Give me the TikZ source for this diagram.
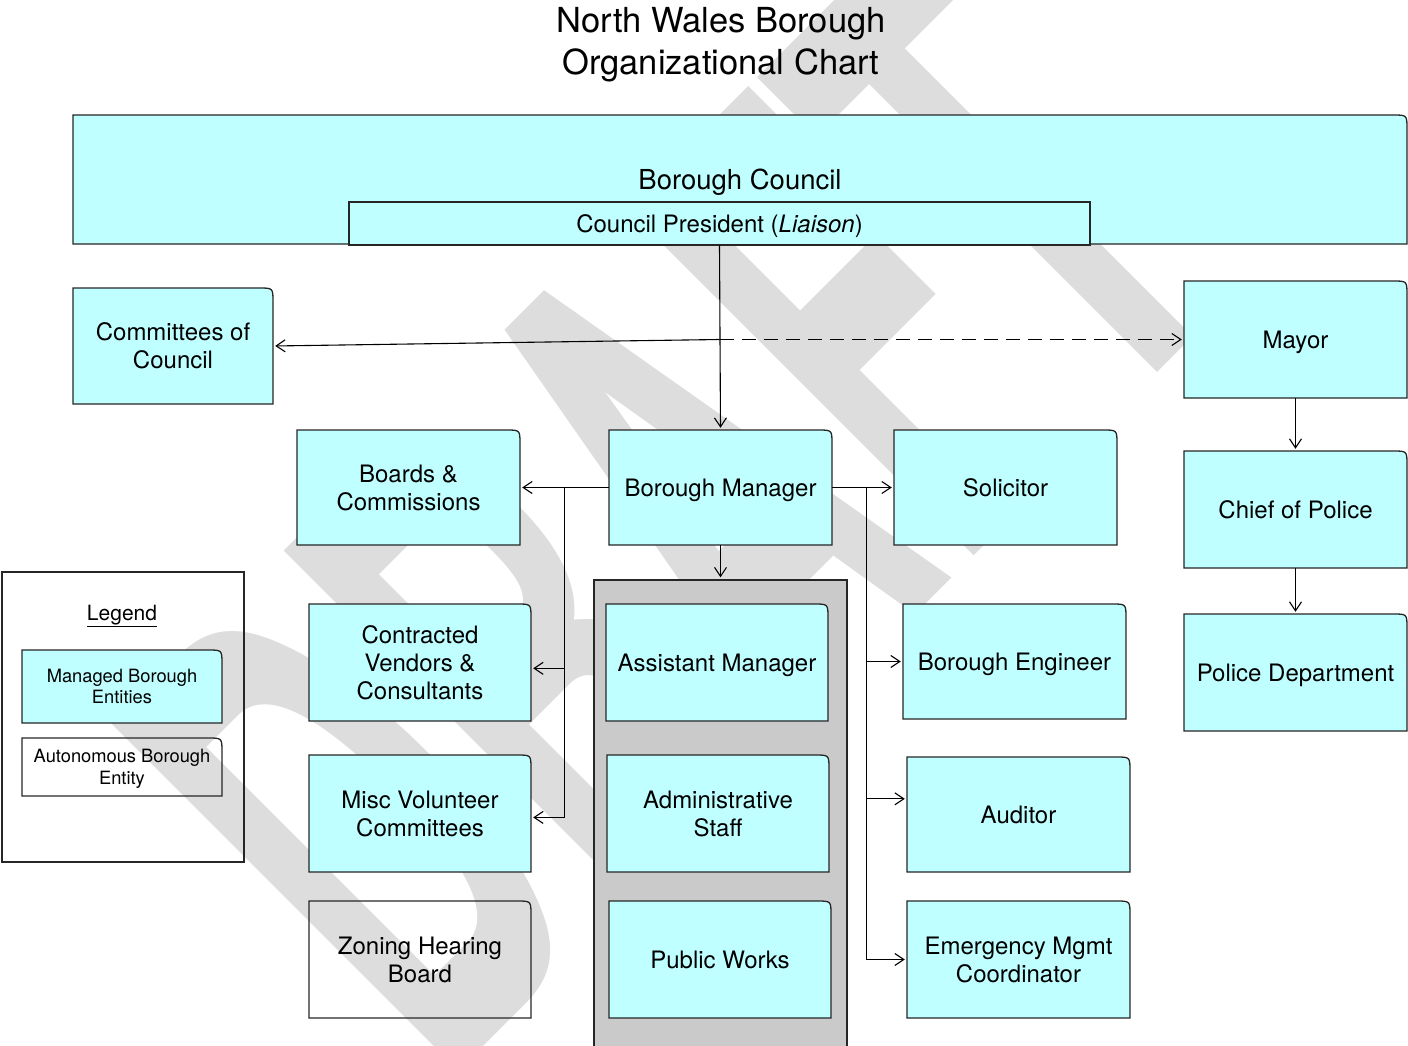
\documentclass[tikz,border=0pt]{standalone}
\usepackage{fontspec}
\setmainfont{TeX Gyre Heros}
\usetikzlibrary{arrows.meta,calc,positioning}

\definecolor{entitycyan}{RGB}{191,255,255}
\definecolor{staffgray}{RGB}{202,202,202}
\definecolor{draftgray}{RGB}{221,221,221}

\newcommand{\cornerR}{14}
% box with one round corner (top right): [node opts]{name}{fill}{x1}{y1}{x2}{y2}{text}
\newcommand{\orgbox}[8][]{%
  \filldraw[boxline,fill=#3] (#4,#7) -- (#4,#5) -- ({#6-\cornerR},#5)
    .. controls (#6,#5) .. (#6,{#5+\cornerR}) -- (#6,#7) -- cycle;
  \pgfmathsetmacro\boxw{#6-#4}\pgfmathsetmacro\boxh{#7-#5}
  \node[boxtext,minimum width=\boxw pt,minimum height=\boxh pt,#1] (#2)
    at ({(#4+#6)/2},{(#5+#7)/2}) {#8};
}

\begin{document}
\begin{tikzpicture}[x=1pt,y=-1pt,
  boxline/.style={draw=black!85,line width=1.3pt},
  boxtext/.style={inner sep=0pt,align=center,text depth=0pt,font=\fontsize{24}{28}\selectfont},
  keytext/.style={font=\fontsize{18.3}{21.5}\selectfont},
  link/.style={line width=1.1pt,shorten >=2pt,-{Straight Barb[length=9pt,width=12pt]}}]
\useasboundingbox (0,0) rectangle (1408,1046);

% watermark
\node[rotate=45,xscale=0.5,anchor=base west,inner sep=0pt,text=draftgray,
  font=\bfseries\fontsize{674}{674}\selectfont] (draft) at (440,1090) {DRAFT};

\node[align=center,font=\fontsize{34.5}{42}\selectfont] (title) at (721,44.5)
  {North Wales Borough\\Organizational Chart};

% council
\orgbox{council}{entitycyan}{73}{115}{1407}{244}{}
\node[font=\fontsize{27.5}{30}\selectfont] (councilname) at (740,182) {Borough Council};
\node[boxline,fill=entitycyan,minimum width=741pt,minimum height=43pt,inner sep=0pt,text depth=0pt,
  font=\fontsize{24}{28}\selectfont] (pres) at (719.5,223.5) {Council President (\textit{Liaison})};

\orgbox{cttee}{entitycyan}{73}{288}{273}{404}{Committees of\\Council}
\orgbox{mayor}{entitycyan}{1184}{281}{1407}{398}{Mayor}
\orgbox{chief}{entitycyan}{1184}{451}{1407}{568}{Chief of Police}
\orgbox{dept}{entitycyan}{1184}{614}{1407}{731}{Police Department}

% manager row
\orgbox{boards}{entitycyan}{297}{430}{520}{545}{Boards \&\\Commissions}
\orgbox{mgr}{entitycyan}{609}{430}{832}{545}{Borough Manager}
\orgbox{solicitor}{entitycyan}{894}{430}{1117}{545}{Solicitor}

% legend
\node[boxline,minimum width=242pt,minimum height=290pt,inner sep=0pt] (legend) at (123,717) {};
\node[font=\fontsize{21}{24}\selectfont] (legendtitle) at (122,616) {\underline{Legend}};
\orgbox[keytext]{managed}{entitycyan}{22}{650}{222}{723}{Managed Borough\\Entities}
\orgbox[keytext]{autonomous}{none}{22}{738}{222}{796}{Autonomous Borough\\Entity}

% left column
\orgbox{vendors}{entitycyan}{309}{604}{531}{721}{Contracted\\Vendors \&\\Consultants}
\orgbox{volunteer}{entitycyan}{309}{755}{531}{872}{Misc Volunteer\\Committees}
\orgbox{zoning}{none}{309}{901}{531}{1018}{Zoning Hearing\\Board}

% staff group
\node[boxline,fill=staffgray,minimum width=253pt,minimum height=470pt,inner sep=0pt] (staff) at (720.5,815) {};
\orgbox{asst}{entitycyan}{606}{604}{828}{721}{Assistant Manager}
\orgbox{admin}{entitycyan}{607}{755}{829}{872}{Administrative\\Staff}
\orgbox{works}{entitycyan}{609}{901}{831}{1018}{Public Works}

% right column
\orgbox{engineer}{entitycyan}{903}{604}{1126}{719}{Borough Engineer}
\orgbox{auditor}{entitycyan}{907}{757}{1130}{872}{Auditor}
\orgbox{emergency}{entitycyan}{907}{901}{1130}{1018}{Emergency Mgmt\\Coordinator}

% connectors
\coordinate (split) at (pres.south |- mayor.west);
\coordinate (leftbus) at ([xshift=-44pt]mgr.west);
\coordinate (rightbus) at ([xshift=34pt]mgr.east);

\draw[link] (pres.south) -- (mgr.north);
\draw[link] (split) -- (cttee.east);
\draw[link,dash pattern=on 14pt off 8pt] (split) -- (mayor.west);
\draw[link] (mayor.south) -- (chief.north);
\draw[link] (chief.south) -- (dept.north);
\draw[link] (mgr.west) -- (boards.east);
\draw[link] (leftbus) |- (vendors.-3);
\draw[link] (leftbus) |- (volunteer.-2);
\draw[link] (mgr.east) -- (solicitor.west);
\draw[link] (rightbus) |- (engineer.west);
\draw[link] (rightbus) |- (auditor.172);
\draw[link] (rightbus) |- (emergency.west);
\draw[link] (mgr.south) -- (staff.north);
\end{tikzpicture}
\end{document}
